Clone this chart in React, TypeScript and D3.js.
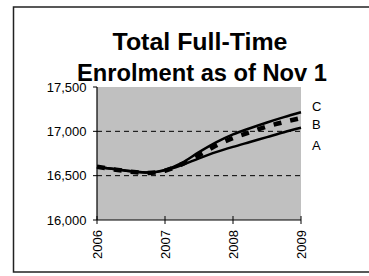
import React from 'react';
import * as d3 from 'd3';

const years = [2006, 2006.25, 2006.5, 2006.75, 2007, 2007.25, 2007.5, 2007.75, 2008, 2008.25, 2008.5, 2008.75, 2009];
const seriesA = [16600, 16575, 16550, 16535, 16560, 16620, 16695, 16765, 16825, 16880, 16935, 16990, 17040];
const seriesB = [16600, 16570, 16545, 16530, 16555, 16630, 16730, 16840, 16925, 16990, 17055, 17105, 17150];
const seriesC = [16600, 16575, 16550, 16535, 16565, 16645, 16765, 16875, 16965, 17035, 17100, 17160, 17215];
const yearTicks = [2006, 2007, 2008, 2009];
const valueTicks = [16000, 16500, 17000, 17500];
const gridValues = [16500, 17000];

const W = 369;
const H = 276;
const margin = { top: 87, right: 68, bottom: 56, left: 97 };

const App: React.FC = () => {
  const x = d3.scaleLinear().domain([2006, 2009]).range([margin.left, W - margin.right]);
  const y = d3.scaleLinear().domain([16000, 17500]).range([H - margin.bottom, margin.top]);
  const fmt = d3.format(',');

  const line = d3
    .line<number>()
    .x((_, i) => x(years[i]))
    .y((d) => y(d))
    .curve(d3.curveMonotoneX);

  const font = 'Liberation Sans, Arial, sans-serif';

  return (
    <svg width={W} height={H} style={{ position: 'absolute', left: 0, top: 0 }} fontFamily={font}>
      <rect x={0} y={0} width={W} height={H} fill="#fff" />
      <rect x={13.5} y={7} width={W + 10} height={265} fill="none" stroke="#222" strokeWidth={1.5} />

      <text x={200} y={50} textAnchor="middle" fontSize={23} fontWeight="bold" textLength={175} lengthAdjust="spacingAndGlyphs">
        Total Full-Time
      </text>
      <text x={202} y={81} textAnchor="middle" fontSize={23} fontWeight="bold" textLength={250} lengthAdjust="spacingAndGlyphs">
        Enrolment as of Nov 1
      </text>

      <rect
        x={x(2006)}
        y={y(17500)}
        width={x(2009) - x(2006)}
        height={y(16000) - y(17500)}
        fill="#c0c0c0"
      />

      {gridValues.map((v) => (
        <line key={v} x1={x(2006)} x2={x(2009)} y1={y(v)} y2={y(v)} stroke="#000" strokeWidth={1} strokeDasharray="5,4" />
      ))}

      <path d={line(seriesA) || ''} fill="none" stroke="#000" strokeWidth={2.5} />
      <path d={line(seriesC) || ''} fill="none" stroke="#000" strokeWidth={2.5} />
      <path d={line(seriesB) || ''} fill="none" stroke="#000" strokeWidth={4.5} strokeDasharray="8,9" />

      <line x1={x(2006)} x2={x(2006)} y1={y(17500)} y2={y(16000)} stroke="#000" strokeWidth={1.2} />
      <line x1={x(2006)} x2={x(2009)} y1={y(16000)} y2={y(16000)} stroke="#000" strokeWidth={1.2} />

      {valueTicks.map((v) => (
        <g key={v}>
          <line x1={x(2006) - 4} x2={x(2006)} y1={y(v)} y2={y(v)} stroke="#000" strokeWidth={1} />
          <text x={86.5} y={y(v)} dy="0.35em" textAnchor="end" fontSize={13}>
            {fmt(v)}
          </text>
        </g>
      ))}

      {yearTicks.map((t) => (
        <g key={t}>
          <line x1={x(t)} x2={x(t)} y1={y(16000) - 4} y2={y(16000) + 4} stroke="#000" strokeWidth={1} />
          <text transform={`translate(${x(t)},230) rotate(-90)`} dy="0.35em" textAnchor="end" fontSize={13}>
            {t}
          </text>
        </g>
      ))}

      <text x={312} y={111} fontSize={13}>C</text>
      <text x={312} y={129} fontSize={13}>B</text>
      <text x={312} y={150} fontSize={13}>A</text>
    </svg>
  );
};

export default App;
